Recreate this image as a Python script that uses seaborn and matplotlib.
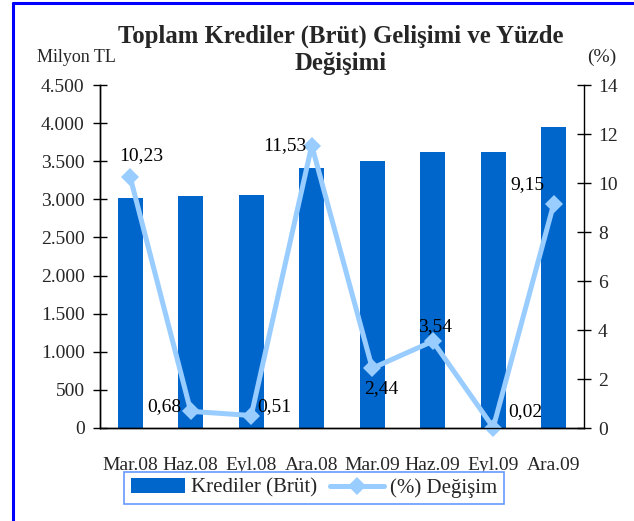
import numpy as np
import matplotlib
matplotlib.use('Agg')
import matplotlib.pyplot as plt
from matplotlib.lines import Line2D
from matplotlib.patches import Patch
from matplotlib.ticker import FuncFormatter, MultipleLocator
import seaborn as sns

# ------------------------------------------------------------
# Data
# ------------------------------------------------------------
PERIODS = ['Mar.08', 'Haz.08', 'Eyl.08', 'Ara.08', 'Mar.09', 'Haz.09', 'Eyl.09', 'Ara.09']
LOANS = [3015, 3045, 3058, 3410, 3500, 3620, 3620, 3948]       # Milyon TL
CHANGE = [10.23, 0.68, 0.51, 11.53, 2.44, 3.54, 0.02, 9.15]    # %

# label offsets in pixels (layout only)
LABEL_OFFSETS = [(11, 22), (-26, 5), (23, 9), (-27, 0), (9, -20), (2, 15), (32, 16), (-26, 19)]

BAR_COLOR = '#0066CC'
LINE_COLOR = '#99CCFF'
FRAME_COLOR = '#0000FF'
FONT = 'Liberation Serif'


def tr_thousands(v, pos=None):
    return f'{int(v):,}'.replace(',', '.')


def tr_decimal(v):
    return f'{v:.2f}'.replace('.', ',')


sns.set_style('white')
plt.rcParams['font.family'] = [FONT, 'DejaVu Serif']
plt.rcParams['font.size'] = 14

fig = plt.figure(figsize=(6.34, 5.21), dpi=100)
ax = fig.add_axes([100 / 634, 1 - 428 / 521, 484 / 634, 343 / 521])

sns.barplot(x=PERIODS, y=LOANS, ax=ax, color=BAR_COLOR, width=0.41,
            saturation=1, edgecolor='none')
ax.set_ylim(0, 4500)
ax.yaxis.set_major_locator(MultipleLocator(500))
ax.yaxis.set_major_formatter(FuncFormatter(tr_thousands))

ax2 = ax.twinx()
sns.pointplot(x=PERIODS, y=CHANGE, ax=ax2, color=LINE_COLOR, markers='D',
              linestyles='-', errorbar=None, linewidth=3.6, markersize=9,
              markeredgewidth=0)
for ln in ax2.lines:
    ln.set_clip_on(False)
ax2.set_ylim(0, 14)
ax2.yaxis.set_major_locator(MultipleLocator(2))

for i, (v, off) in enumerate(zip(CHANGE, LABEL_OFFSETS)):
    ax2.annotate(tr_decimal(v), (i, v), xytext=off, textcoords='offset pixels',
                 ha='center', va='center', fontsize=14, color='black')

# x ticks: marks on category boundaries, labels on category centres
n = len(PERIODS)
ax.set_xlim(-0.5, n - 0.5)
ax.set_xticks(np.arange(-0.5, n, 1))
ax.set_xticklabels([''] * (n + 1))
ax.set_xticks(np.arange(n), minor=True)
ax.set_xticklabels(PERIODS, minor=True)
ax.tick_params(axis='x', which='major', direction='inout', length=10, width=1, color='black')
ax.tick_params(axis='x', which='minor', length=0, pad=21, labelsize=14)
ax2.tick_params(axis='x', which='both', bottom=False, top=False, labelbottom=False)

ax.tick_params(axis='y', direction='inout', length=10, width=1, color='black', pad=6, left=True)
ax2.tick_params(axis='y', direction='inout', length=10, width=1, color='black', pad=5, right=True)

for a in (ax, ax2):
    a.set_xlabel('')
    a.set_ylabel('')
    a.grid(False)
    a.spines['top'].set_visible(False)
    for s in ('left', 'right', 'bottom'):
        a.spines[s].set_color('black')
        a.spines[s].set_linewidth(1)
ax.spines['right'].set_visible(False)

fig.text(341 / 634, 1 - 50 / 521, 'Toplam Krediler (Brüt) Gelişimi ve Yüzde\nDeğişimi',
         ha='center', va='center', fontsize=17.8, fontweight='bold', linespacing=1.2)
fig.text(76 / 634, 1 - 57 / 521, 'Milyon TL', ha='center', va='center', fontsize=13)
fig.text(602 / 634, 1 - 57 / 521, '(%)', ha='center', va='center', fontsize=14)

handles = [Patch(facecolor=BAR_COLOR, edgecolor='none'),
           Line2D([], [], color=LINE_COLOR, lw=3.6, marker='D', markersize=9, markeredgewidth=0)]
leg = fig.legend(handles, ['Krediler (Brüt)', '(%) Değişim'], loc='center',
                 bbox_to_anchor=(314 / 634, 1 - 488 / 521), ncol=2, fontsize=15,
                 frameon=True, fancybox=False, edgecolor='#6699FF', framealpha=1,
                 handlelength=2.6, handletextpad=0.3, columnspacing=0.6,
                 borderpad=0.3, borderaxespad=0)
leg.get_frame().set_linewidth(1.2)

# outer frame (left and top edges visible)
fig.add_artist(Line2D([12.5 / 634, 12.5 / 634], [0, 1 - 2.5 / 521], color=FRAME_COLOR,
                      lw=2.2, transform=fig.transFigure))
fig.add_artist(Line2D([12.5 / 634, 1], [1 - 2.5 / 521, 1 - 2.5 / 521], color=FRAME_COLOR,
                      lw=2.2, transform=fig.transFigure))

fig.savefig('out.png', dpi=100)
